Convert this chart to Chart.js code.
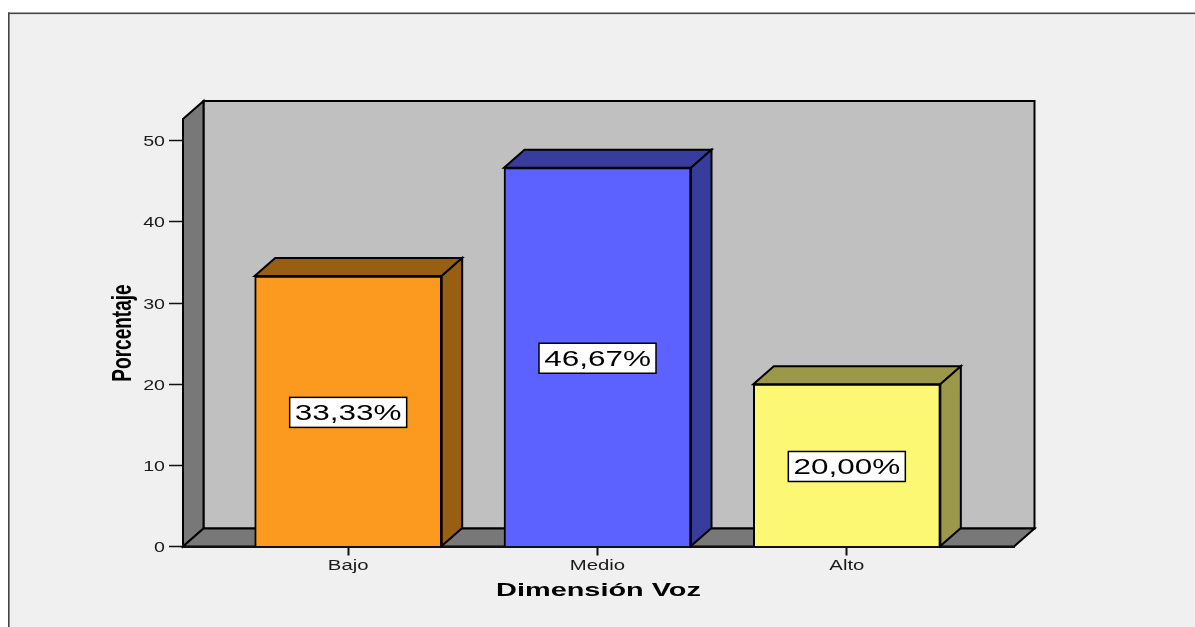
<!DOCTYPE html>
<html>
<head>
<meta charset="utf-8">
<style>
html,body{margin:0;padding:0;background:#fff;}
#c{display:block;}
</style>
<script src="https://cdn.jsdelivr.net/npm/chart.js@4/dist/chart.umd.js"></script>
</head>
<body>
<canvas id="c" width="1195" height="627"></canvas>
<script>
const categories = ["Bajo", "Medio", "Alto"];
const positions = [1, 2, 3];
const values = [33.33, 46.67, 20.00];
const valueLabels = ["33,33%", "46,67%", "20,00%"];
const yTicks = [0, 10, 20, 30, 40, 50];
const frontColors = ["#FB9A1F", "#5B62FF", "#FCF874"];
const shadeColors = ["#985F12", "#383C9C", "#9C984A"];
const xTitle = "Dimensión Voz";
const yTitle = "Porcentaje";

const DX = 20.5, DY = -18;
const FONT = '"Liberation Sans", Arial, sans-serif';

function stretched(ctx, text, x, y, sx, font, align, color, rot) {
  ctx.save();
  ctx.translate(x, y);
  if (rot) ctx.rotate(rot);
  ctx.scale(sx, 1);
  ctx.font = font;
  ctx.fillStyle = color;
  ctx.textAlign = align;
  ctx.textBaseline = "alphabetic";
  ctx.fillText(text, 0, 0);
  ctx.restore();
}
function poly(ctx, pts, fill) {
  ctx.beginPath();
  pts.forEach((p, i) => i ? ctx.lineTo(p[0], p[1]) : ctx.moveTo(p[0], p[1]));
  ctx.closePath();
  ctx.fillStyle = fill;
  ctx.fill();
  ctx.lineWidth = 2;
  ctx.strokeStyle = "#000";
  ctx.lineJoin = "miter";
  ctx.stroke();
}

const panel = {
  id: "panel",
  beforeDraw(chart) {
    const ctx = chart.ctx, a = chart.chartArea;
    ctx.save();
    ctx.fillStyle = "#fff";
    ctx.fillRect(0, 0, chart.width, chart.height);
    ctx.fillStyle = "#F0F0F0";
    ctx.fillRect(9, 13, chart.width, chart.height);
    ctx.fillStyle = "#444";
    ctx.fillRect(8, 12.5, chart.width, 1.6);
    ctx.fillRect(8, 12.5, 1.6, chart.height);
    poly(ctx, [[a.left + DX, a.top + DY], [a.right + DX, a.top + DY], [a.right + DX, a.bottom + DY], [a.left + DX, a.bottom + DY]], "#C0C0C0");
    poly(ctx, [[a.left, a.top], [a.left + DX, a.top + DY], [a.left + DX, a.bottom + DY], [a.left, a.bottom]], "#787878");
    poly(ctx, [[a.left, a.bottom], [a.left + DX, a.bottom + DY], [a.right + DX, a.bottom + DY], [a.right, a.bottom]], "#787878");
    ctx.restore();
  },
  beforeDatasetsDraw(chart) {
    const ctx = chart.ctx;
    chart.getDatasetMeta(0).data.forEach((b, i) => {
      const p = b.getProps(["x", "y", "width", "base"], true);
      const l = p.x - p.width / 2, r = p.x + p.width / 2;
      poly(ctx, [[l, p.y], [l + DX, p.y + DY], [r + DX, p.y + DY], [r, p.y]], shadeColors[i]);
      poly(ctx, [[r, p.y], [r + DX, p.y + DY], [r + DX, p.base + DY], [r, p.base]], shadeColors[i]);
    });
  },
  afterDatasetsDraw(chart) {
    const ctx = chart.ctx, xs = chart.scales.x, ys = chart.scales.y;
    chart.getDatasetMeta(0).data.forEach((b, i) => {
      const p = b.getProps(["x", "y", "base"], true);
      const cy = (p.y + p.base) / 2 + 1.4;
      ctx.fillStyle = "#fff";
      ctx.fillRect(p.x - 58.5, cy - 15, 117, 30);
      ctx.strokeStyle = "#000";
      ctx.lineWidth = 1.5;
      ctx.strokeRect(p.x - 58.5, cy - 15, 117, 30);
      stretched(ctx, valueLabels[i], p.x, cy + 8, 1.43, "22px " + FONT, "center", "#000");
    });
    xs.ticks.forEach((t, i) => {
      stretched(ctx, t.label, xs.getPixelForTick(i), 570, 1.45, "14px " + FONT, "center", "#1a1a1a");
    });
    ys.ticks.forEach((t, i) => {
      stretched(ctx, t.label, 165, ys.getPixelForTick(i) + 5.5, 1.4, "14px " + FONT, "right", "#1a1a1a");
    });
    stretched(ctx, xTitle, 598.5, 596, 1.52, "bold 19px " + FONT, "center", "#000");
    stretched(ctx, yTitle, 130.5, 333, 0.68, "bold 28px " + FONT, "center", "#000", -Math.PI / 2);
  }
};

new Chart(document.getElementById("c"), {
  type: "bar",
  data: {
    datasets: [{
      data: positions.map((x, i) => ({ x, y: values[i] })),
      backgroundColor: frontColors,
      borderColor: "#000",
      borderWidth: 2,
      barThickness: 187
    }]
  },
  plugins: [panel],
  options: {
    responsive: false,
    animation: false,
    layout: { padding: { left: 0, right: 181, top: 119, bottom: 0 } },
    plugins: { legend: { display: false }, tooltip: { enabled: false }, title: { display: false } },
    scales: {
      x: {
        type: "linear",
        offset: false,
        min: 0.3375,
        max: 3.6705,
        afterBuildTicks(s) { s.ticks = positions.map(v => ({ value: v })); },
        afterFit(s) { s.height = 80.5; },
        ticks: { display: false, callback: (v) => categories[positions.indexOf(v)] },
        grid: { offset: false, drawOnChartArea: false, tickLength: 9, tickColor: "#111", tickWidth: 2 },
        border: { color: "#111", width: 2 }
      },
      y: {
        min: 0,
        max: 52.67,
        afterBuildTicks(s) { s.ticks = yTicks.map(v => ({ value: v })); },
        afterFit(s) { s.width = 183; },
        ticks: { display: false, callback: (v) => String(v) },
        grid: { drawOnChartArea: false, tickLength: 14, tickColor: "#111", tickWidth: 1.5 },
        border: { color: "#000", width: 2 }
      }
    }
  }
});
</script>
</body>
</html>
